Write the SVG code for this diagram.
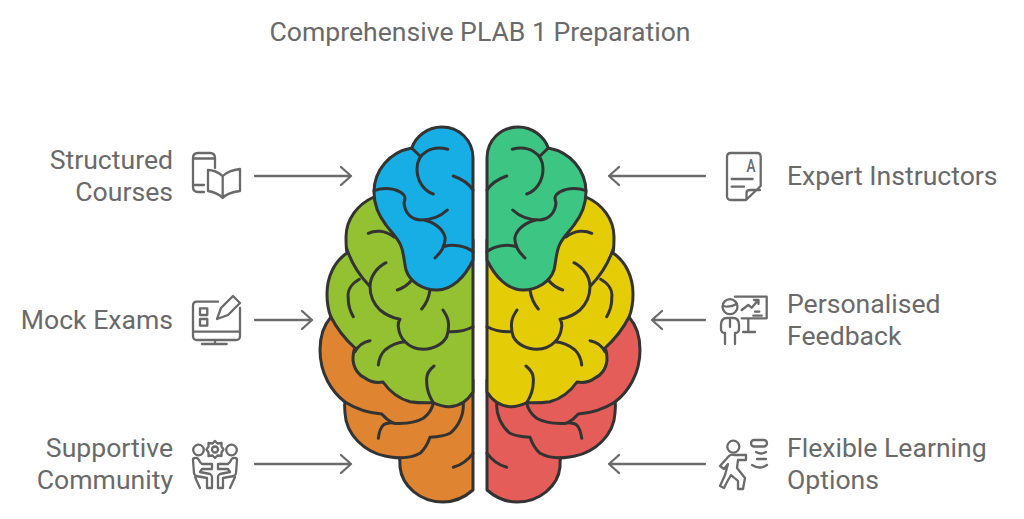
<svg xmlns="http://www.w3.org/2000/svg" width="1024" height="519" viewBox="0 0 1024 519">
<style>
.t{font-family:Roboto,"Liberation Sans",sans-serif;font-size:26.6px;fill:#6a6a6a}
.e{text-anchor:end}
.b{stroke:#333;stroke-width:3;stroke-linecap:round;stroke-linejoin:round}
.l{fill:none;stroke:#333;stroke-width:3;stroke-linecap:round;stroke-linejoin:round}
.i{fill:none;stroke:#6a6a6a;stroke-width:2.300;stroke-linecap:round;stroke-linejoin:round}
.a{fill:none;stroke:#6b6b6b;stroke-width:2.300;stroke-linecap:round;stroke-linejoin:round}
</style>
<defs>
<g id="top">
<path class="b" d="M473,158C473,140 459,127 441.700,127C428,127 416,136 411.700,148C390,152 374,170 374,192C374,205 379,216 386,225C391,232 398,238 401,246C404,253 404,262 406,270C410,282 423,290 437,290C452,290 465,277 473,260Z"/>
<path class="l" d="M411.700,148L420,156M447.700,149.300C432,145 417,153 417,169C417,181 424,191 433.300,194M453.300,176C462,179 469,184 473,190M374,190.700C384,187 396,188 403,194C406,197 405,199 404,203C405,213 411,219 420,220C430,220 440,217 447.300,210M424,220C434,222 443,229 445,237C445.500,241 444.500,244 443.300,246.700C442,251 438,255 435,258M443.300,246.700C452,244 465,245 473,251.700"/>
</g>
<g id="mid">
<path class="b" d="M374,197C358,204 346,219 346,237C346,242 346,248 347,253C335,261 327,276 327,294C327,303 328,310 331,317C337,329 345,339 355,348C353,352 353,356 353,360C354,370 360,376 365,378C370,382 377,383 383,382C390,392 400,399 410,401.700C418,403 426,403 433,402.700C438,405 444,407 450,406.700C460,406 468,400 473,392V240L410,230Z"/>
<path class="l" d="M346.500,248C351,262 359,275 369.300,285.700M359.300,279.300C351,284 347,291 348.300,298C348,305 350,311 353.300,316.700M386,262.700C376,268 370,277 370,286.700C370,297 374,304 380,310C386,315 393,318 400,319.300C398,322 398,324 398.300,326.700C399,333 401,338 405,341.700C410,347 416,349 423.300,349.300C434,349 443,344 446.700,336.700C449,330 449,325 448,320C447,316 445,313 443,310M448,331.700C456,332 465,331 473,326.700M368.300,233.300C375,230 385,230 394,237M397.300,290C403,288 408,285 411.700,280M430,290C429,297 426,304 421.700,309M370,340.700C363,342 358,346 355,351.700M378.300,365C379,358 382,353 385,350C391,345 398,342 405,341.700M434,366C429,370 426,375 426.700,381C426.500,389 429,396 433.300,402.700"/>
</g>
<g id="low">
<path class="b" d="M331,317C323,326 320,338 320,350C320,374 332,392 345,402C344,406 345,410 345,413C346,435 365,452 385,456C390,457 395,458 399.500,457.700C400,461 400,464 400,467C402,486 420,502 443,502C455,502 465,497 473,490V380H440L400,340Z"/>
<path class="l" d="M345,402C356,409 369,413 381.700,414C385,418 389,421 393.300,423.300C403,424 415,423 423.300,418.300C429,414 432,409 433.300,403.300M378.300,438.300C379,433 380,428 383.300,425C386,423 390,423 393.300,422.700M399.500,457.700C407,458 415,456 420,453.300C425,449 428,443 430,437.300C437,437 445,436 450,433.300C459,426 464,414 463.300,403.300M453.300,467.300C461,465 468,460 473,453.300"/>
</g>
</defs>
<text id="title" class="t" x="480" y="41" text-anchor="middle">Comprehensive PLAB 1 Preparation</text>
<g id="connectors">
<path class="a" d="M255,176H351M341,167L351,176L341,185"/>
<path class="a" d="M255,320H312M302,311L312,320L302,329"/>
<path class="a" d="M255,464H351M341,455L351,464L341,473"/>
<path class="a" d="M705,176H609M619,167L609,176L619,185"/>
<path class="a" d="M705,320H652M662,311L652,320L662,329"/>
<path class="a" d="M705,464H609M619,455L609,464L619,473"/>
</g>
<g id="node-supportive-community">
<use href="#low" fill="#DF8431"/>
<text class="t e" x="173" y="457">Supportive</text>
<text class="t e" x="173" y="489">Community</text>
<g class="i">
<circle cx="198.500" cy="450" r="5.300"/>
<circle cx="231.500" cy="450" r="5.300"/>
<circle cx="215" cy="449.500" r="3"/>
<path d="M215,441L217.500,443.500L221.500,443L221.500,446.500L223.500,449.500L221.500,452.500L221.500,456L217.500,455.500L215,458L212.500,455.500L208.500,456L208.500,452.500L206.500,449.500L208.500,446.500L208.500,443L212.500,443.500Z"/>
<path d="M193,460Q193,458 195,458Q198,457 200,462L202,464H212V469H202L200,472L210,474Q212,475 212,477V488H207V478L196,476Q194,475 194,473ZM195,477L200,488"/>
<path d="M237,460Q237,458 235,458Q232,457 230,462L228,464H218V469H228L230,472L220,474Q218,475 218,477V488H223V478L234,476Q236,475 236,473ZM235,477L230,488"/>
</g>
</g>
<g id="node-flexible-learning">
<use href="#low" fill="#E55D59" transform="matrix(-1 0 0 1 960 0)"/>
<text class="t" x="787" y="457">Flexible Learning</text>
<text class="t" x="787" y="489">Options</text>
<g class="i">
<circle cx="733.300" cy="446.700" r="6"/>
<path d="M720,466L729,456Q731,454 734,455H746V460H738L737,468L745,478L743,489H738V481L731,475L727,482L724,488L720,486L725,475L728,464L724,469Z"/>
<rect x="751" y="440" width="16" height="6.500" rx="3.200"/>
<path d="M756,452Q761,455 766,452M757,459H766M752,465Q760,470 767,465"/>
</g>
</g>
<g id="node-mock-exams">
<use href="#mid" fill="#93C132"/>
<text class="t e" x="173" y="329">Mock Exams</text>
<g class="i">
<path d="M218,301.700H197Q193,301.700 193,306V336Q193,340 197,340H236Q240,340 240,336V308M193,331.700H240M215,340V344M202,344H226.700"/>
<rect x="200" y="308.300" width="7.300" height="6.700"/>
<rect x="200" y="319" width="7.300" height="6.700"/>
<path d="M217,319L221,308L233,296L240,303L228,315Z"/>
</g>
</g>
<g id="node-personalised-feedback">
<use href="#mid" fill="#E4CD07" transform="matrix(-1 0 0 1 960 0)"/>
<text class="t" x="787" y="313">Personalised</text>
<text class="t" x="787" y="345">Feedback</text>
<g class="i">
<circle cx="730" cy="306.700" r="7.500"/>
<path d="M723.500,306Q730,308 736.500,304M725,344V333Q721,333 721,329V325Q721,318 727,318H733Q739,318 739,325V329Q739,333 735,333V344M730,320V327"/>
<path d="M735,296.700H766.700V318.300H741.700M741.700,310L748.300,305L751.700,307.700L758.300,300M754,300H758.500V304M755,311.700H759.300M753.300,315.700H761.700M748.300,318.300V332M743,332H755"/>
</g>
</g>
<g id="node-structured-courses">
<use href="#top" fill="#17AEE5"/>
<text class="t e" x="173" y="169">Structured</text>
<text class="t e" x="173" y="201">Courses</text>
<g class="i">
<path d="M215,168V158Q215,153 210,153H198Q193,153 193,158V187Q193,192 198,192H204M193,158.500H215M193,185H204"/>
<path d="M222.700,176C218,172 213,170 208,170V191C214,192 219,194 222.700,198C226,194 232,192 240,191V169C232,170 227,172 222.700,176V198"/>
</g>
</g>
<g id="node-expert-instructors">
<use href="#top" fill="#3DC584" transform="matrix(-1 0 0 1 960 0)"/>
<text class="t" x="787" y="185">Expert Instructors</text>
<g class="i">
<path d="M731,153H757Q760.700,153 760.700,157V186L746,200H731Q727,200 727,196V157Q727,153 731,153ZM760,190H750Q746.500,190 746.500,193V199.500M731.700,179H752.700M731.700,186.700H744"/>
</g>
<text x="751" y="172" font-family="Roboto,sans-serif" font-size="18" font-weight="500" fill="#6a6a6a" text-anchor="middle" textLength="9" lengthAdjust="spacingAndGlyphs">A</text>
</g>
</svg>
